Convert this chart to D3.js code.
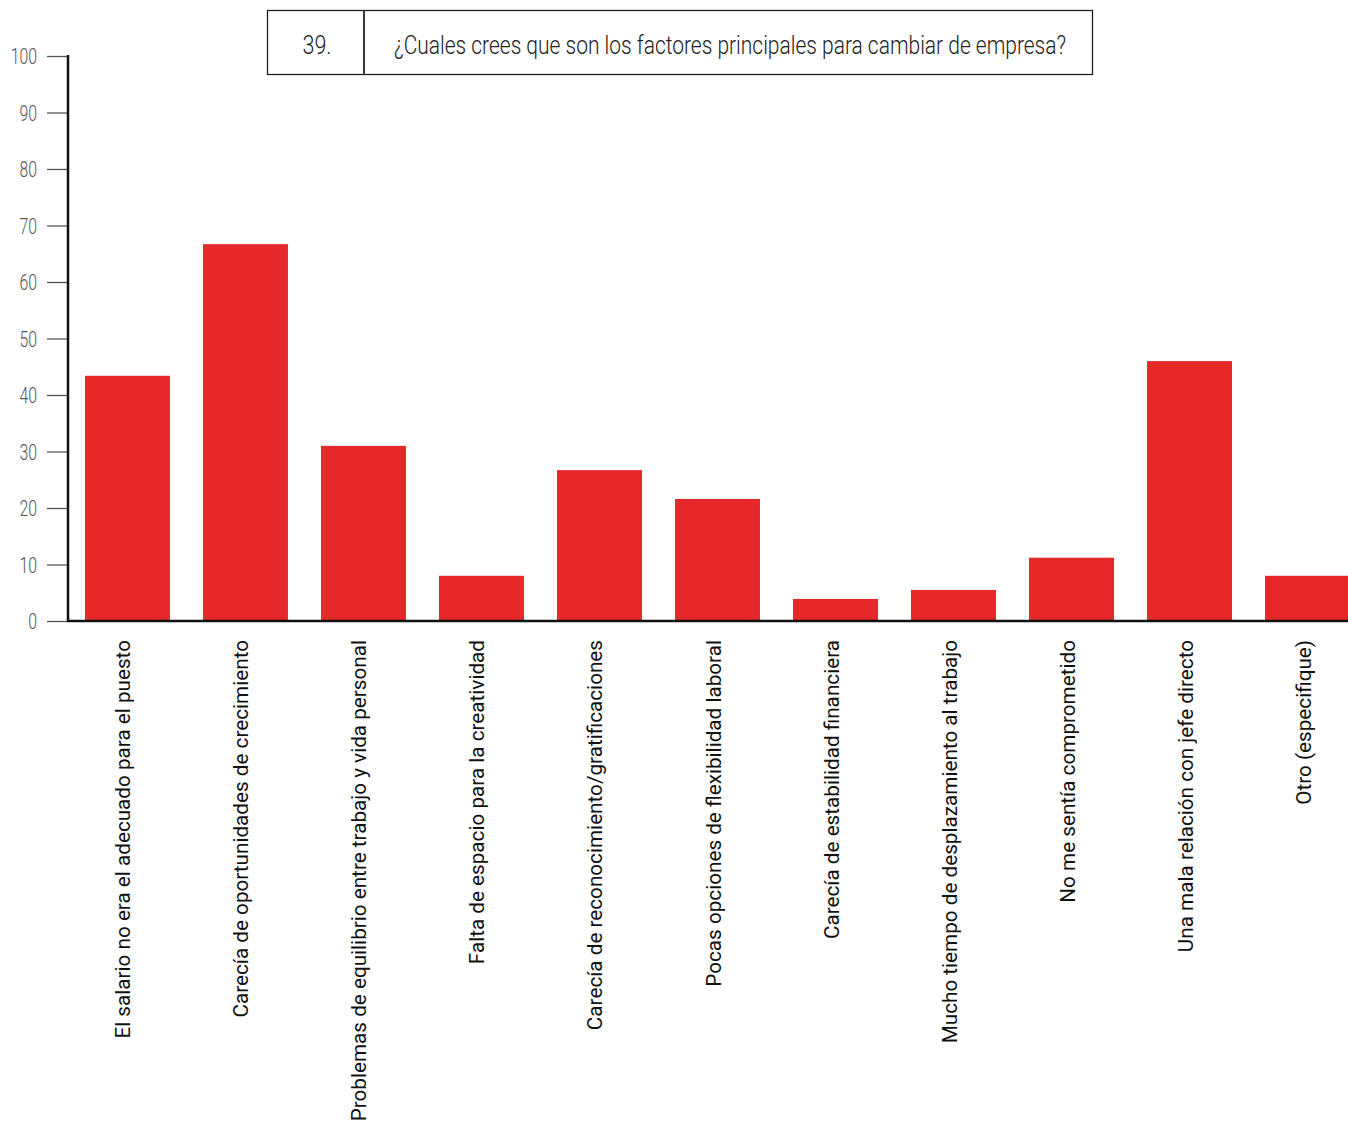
<!DOCTYPE html>
<html>
<head>
<meta charset="utf-8">
<script src="https://cdn.jsdelivr.net/npm/d3@7"></script>
<style>
  body { margin: 0; background: #fff; }
  svg { display: block; }
</style>
</head>
<body>
<div id="chart"></div>
<script>
// Data
const categories = [
  "El salario no era el adecuado para el puesto",
  "Carecía de oportunidades de crecimiento",
  "Problemas de equilibrio entre trabajo y vida personal",
  "Falta de espacio para la creatividad",
  "Carecía de reconocimiento/gratificaciones",
  "Pocas opciones de flexibilidad laboral",
  "Carecía de estabilidad financiera",
  "Mucho tiempo de desplazamiento al trabajo",
  "No me sentía comprometido",
  "Una mala relación con jefe directo",
  "Otro (especifique)"
];
const values = [43.4, 66.7, 31.0, 8.0, 26.7, 21.6, 3.9, 5.5, 11.2, 46.0, 8.0];
const yTicks = [0, 10, 20, 30, 40, 50, 60, 70, 80, 90, 100];
const questionNumber = "39.";
const questionText = "¿Cuales crees que son los factores principales para cambiar de empresa?";

const W = 1348, H = 1123;
const axisX = 68, baseY = 621, topY = 56;

const svg = d3.select("#chart")
  .append("svg")
    .attr("width", W)
    .attr("height", H);

// Scales
const x = d3.scaleBand()
  .domain(categories)
  .range([axisX, axisX + 1299])
  .paddingInner(0.28)
  .paddingOuter(0.144);

const y = d3.scaleLinear()
  .domain([0, 100])
  .range([baseY, topY]);

// Bars
svg.append("g")
  .selectAll("rect")
  .data(values)
  .join("rect")
    .attr("x", (d, i) => x(categories[i]))
    .attr("y", d => y(d))
    .attr("width", x.bandwidth())
    .attr("height", d => baseY - y(d))
    .attr("fill", "#e5282a");

// Y axis
const yAxis = svg.append("g")
  .attr("transform", `translate(${axisX},0)`)
  .call(d3.axisLeft(y).tickValues(yTicks).tickSize(21).tickPadding(10));
yAxis.select(".domain").remove();
yAxis.selectAll(".tick line").attr("stroke", "#555").attr("stroke-width", 1.3);
yAxis.selectAll(".tick text")
  .attr("fill", "#555")
  .attr("font-family", "Roboto, sans-serif")
  .attr("font-size", 22)
  .attr("font-weight", 300)
  .attr("text-anchor", "end")
  .attr("dy", "0.35em")
  .attr("transform", function() {
    const xx = +d3.select(this).attr("x");
    return `translate(${xx},0) scale(0.72,1) translate(${-xx},0)`;
  });

// axis lines
svg.append("line")
  .attr("x1", axisX).attr("x2", axisX)
  .attr("y1", topY - 1).attr("y2", baseY + 1)
  .attr("stroke", "#111").attr("stroke-width", 2.5);
svg.append("line")
  .attr("x1", axisX - 1).attr("x2", W)
  .attr("y1", baseY).attr("y2", baseY)
  .attr("stroke", "#111").attr("stroke-width", 2.5);

// Category labels (rotated)
svg.append("g")
  .selectAll("text")
  .data(categories)
  .join("text")
    .attr("transform", d => `translate(${x(d) + x.bandwidth() / 2 + 3},${baseY + 19}) rotate(-90)`)
    .attr("text-anchor", "end")
    .attr("font-family", "Roboto, sans-serif")
    .attr("font-size", 20.7)
    .attr("fill", "#111")
    .text(d => d);

// Title box
const box = svg.append("g");
box.append("rect")
  .attr("x", 267.5).attr("y", 10.5)
  .attr("width", 825).attr("height", 64)
  .attr("fill", "#fff").attr("stroke", "#222").attr("stroke-width", 1.3);
box.append("line")
  .attr("x1", 364).attr("x2", 364)
  .attr("y1", 10.5).attr("y2", 74.5)
  .attr("stroke", "#222").attr("stroke-width", 1.8);
box.append("text")
  .attr("x", 317).attr("y", 54)
  .attr("text-anchor", "middle")
  .attr("font-family", "Roboto, sans-serif")
  .attr("font-size", 26)
  .attr("font-weight", 300)
  .attr("fill", "#222")
  .attr("textLength", 29)
  .attr("lengthAdjust", "spacingAndGlyphs")
  .text(questionNumber);
box.append("text")
  .attr("x", 394).attr("y", 54)
  .attr("font-family", "Roboto, sans-serif")
  .attr("font-size", 26)
  .attr("font-weight", 300)
  .attr("fill", "#222")
  .attr("textLength", 672)
  .attr("lengthAdjust", "spacingAndGlyphs")
  .text(questionText);
</script>
</body>
</html>
